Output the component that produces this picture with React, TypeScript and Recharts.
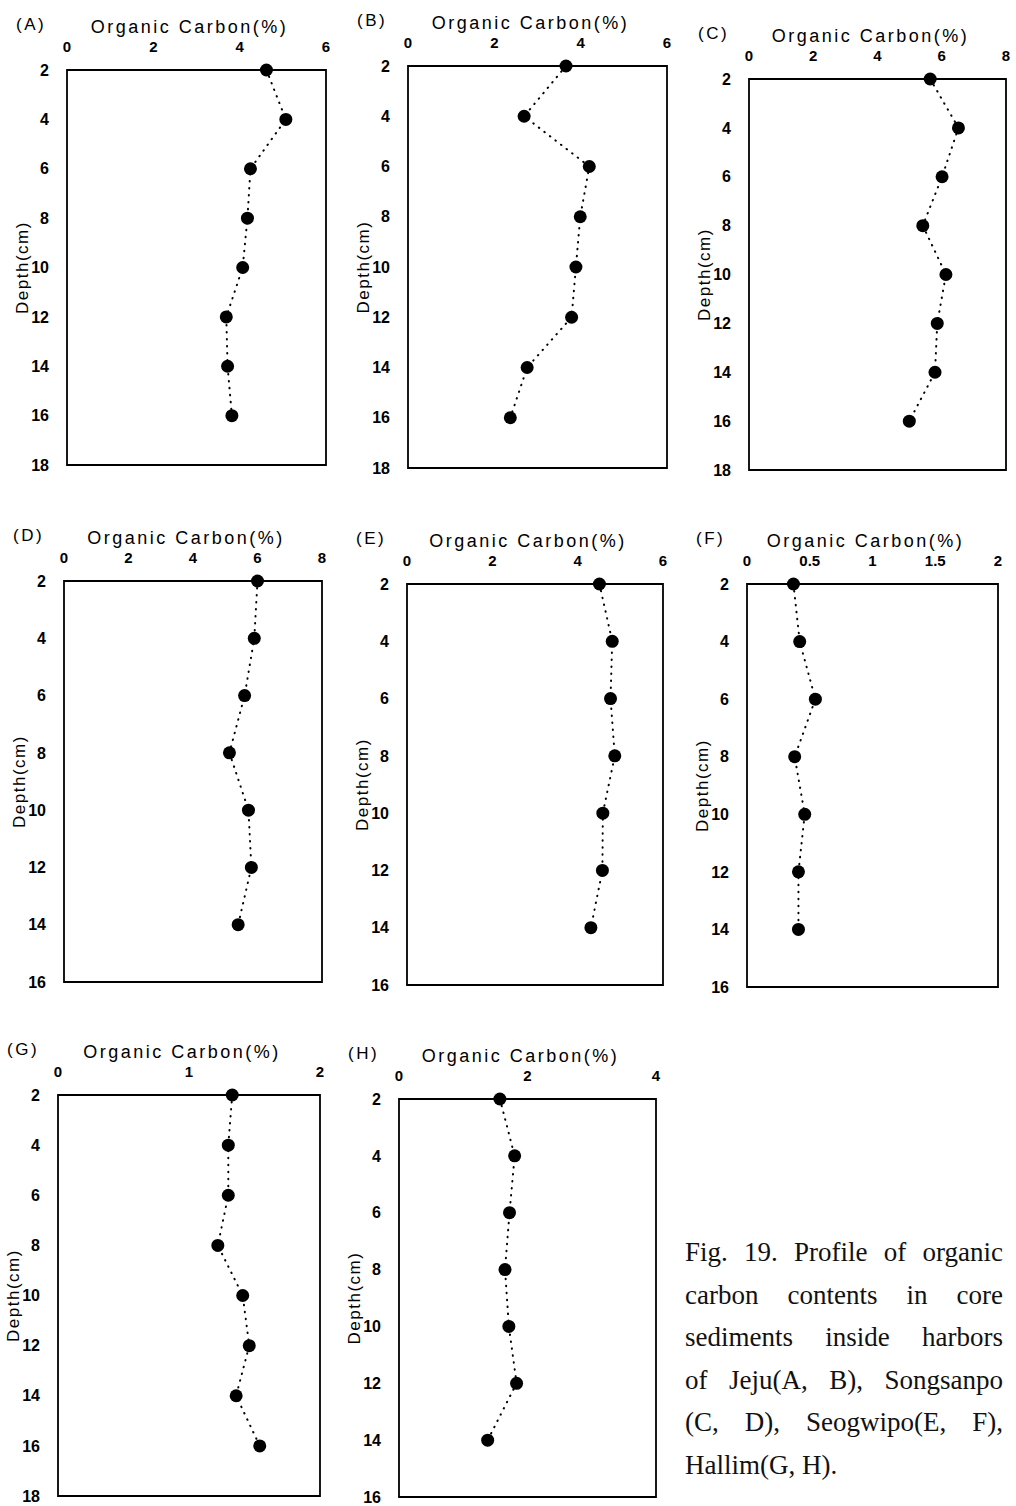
import { ScatterChart, Scatter, XAxis, YAxis, ReferenceArea } from "recharts";

const SANS = '"Liberation Sans", Arial, sans-serif';
const SERIF = '"Liberation Serif", "Times New Roman", serif';

// sampling depths (cm)
const depthsLong = [2, 4, 6, 8, 10, 12, 14, 16];
const depthsShort = [2, 4, 6, 8, 10, 12, 14];

// organic carbon (%) for each core
const carbonA = [4.62, 5.07, 4.25, 4.18, 4.07, 3.69, 3.72, 3.82];
const carbonB = [3.66, 2.69, 4.2, 3.99, 3.89, 3.79, 2.76, 2.37];
const carbonC = [5.64, 6.52, 6.01, 5.41, 6.13, 5.86, 5.79, 4.99];
const carbonD = [6.0, 5.9, 5.6, 5.13, 5.72, 5.81, 5.4];
const carbonE = [4.51, 4.81, 4.77, 4.87, 4.59, 4.58, 4.31];
const carbonF = [0.37, 0.42, 0.545, 0.38, 0.46, 0.41, 0.41];
const carbonG = [1.33, 1.3, 1.3, 1.22, 1.41, 1.46, 1.36, 1.54];
const carbonH = [1.57, 1.8, 1.72, 1.65, 1.71, 1.83, 1.38];

// axis ticks
const ticks6 = [0, 2, 4, 6];
const ticks8 = [0, 2, 4, 6, 8];
const ticksHalf = [0, 0.5, 1, 1.5, 2];
const ticks2 = [0, 1, 2];
const ticks4 = [0, 2, 4];
const depthTicks18 = [2, 4, 6, 8, 10, 12, 14, 16, 18];
const depthTicks16 = [2, 4, 6, 8, 10, 12, 14, 16];

const captionLines = [
  "Fig. 19. Profile of organic",
  "carbon contents in core",
  "sediments inside harbors",
  "of Jeju(A, B), Songsanpo",
  "(C, D), Seogwipo(E, F),",
  "Hallim(G, H).",
];

type Panel = {
  id: string;
  depths: number[];
  carbon: number[];
  xTicks: number[];
  yTicks: number[];
  box: [number, number, number, number]; // left, top, right, bottom of plot frame
};

const panels: Panel[] = [
  { id: "A", depths: depthsLong, carbon: carbonA, xTicks: ticks6, yTicks: depthTicks18, box: [67, 70, 326, 465] },
  { id: "B", depths: depthsLong, carbon: carbonB, xTicks: ticks6, yTicks: depthTicks18, box: [408, 66, 667, 468] },
  { id: "C", depths: depthsLong, carbon: carbonC, xTicks: ticks8, yTicks: depthTicks18, box: [749, 79, 1006, 470] },
  { id: "D", depths: depthsShort, carbon: carbonD, xTicks: ticks8, yTicks: depthTicks16, box: [64, 581, 322, 982] },
  { id: "E", depths: depthsShort, carbon: carbonE, xTicks: ticks6, yTicks: depthTicks16, box: [407, 584, 663, 985] },
  { id: "F", depths: depthsShort, carbon: carbonF, xTicks: ticksHalf, yTicks: depthTicks16, box: [747, 584, 998, 987] },
  { id: "G", depths: depthsLong, carbon: carbonG, xTicks: ticks2, yTicks: depthTicks18, box: [58, 1095, 320, 1496] },
  { id: "H", depths: depthsShort, carbon: carbonH, xTicks: ticks4, yTicks: depthTicks16, box: [399, 1099, 656, 1497] },
];

const Dot = (props: any) => <circle cx={props.cx} cy={props.cy} r={6.5} fill="#000" />;

function Profile({ p }: { p: Panel }) {
  const [left, top, right, bottom] = p.box;
  const w = right - left;
  const h = bottom - top;
  const data = p.depths.map((d, i) => ({ depth: d, carbon: p.carbon[i] }));
  const xMax = p.xTicks[p.xTicks.length - 1];
  const yMin = p.yTicks[0];
  const yMax = p.yTicks[p.yTicks.length - 1];

  return (
    <div style={{ position: "absolute", left: left - 90, top: top - 60 }}>
      <span
        style={{
          position: "absolute",
          left: 39,
          top: 6,
          fontFamily: SANS,
          fontSize: 17,
          letterSpacing: 2.5,
          lineHeight: "18px",
          color: "#000",
        }}
      >
        ({p.id})
      </span>
      <ScatterChart width={w + 100} height={h + 70} margin={{ top: 5, right: 10, bottom: 10, left: 0 }}>
        <XAxis
          type="number"
          dataKey="carbon"
          orientation="top"
          domain={[0, xMax]}
          ticks={p.xTicks}
          interval={0}
          height={55}
          axisLine={false}
          tickLine={false}
          tickMargin={12}
          tick={{ fontSize: 15, fontWeight: 700, fill: "#000", fontFamily: SANS }}
          label={{
            value: "Organic Carbon(%)",
            position: "insideTop",
            offset: 5,
            dx: -7,
            fill: "#000",
            fontSize: 18,
            fontFamily: SANS,
            letterSpacing: 2.5,
            style: { letterSpacing: 2.5 },
          }}
        />
        <YAxis
          type="number"
          dataKey="depth"
          reversed
          domain={[yMin, yMax]}
          ticks={p.yTicks}
          interval={0}
          width={90}
          axisLine={false}
          tickLine={false}
          tickMargin={12}
          tick={{ fontSize: 16, fontWeight: 700, fill: "#000", fontFamily: SANS }}
          label={{
            value: "Depth(cm)",
            angle: -90,
            position: "center",
            fill: "#000",
            fontSize: 17,
            fontFamily: SANS,
            letterSpacing: 1.5,
            style: { letterSpacing: 1.5 },
          }}
        />
        <ReferenceArea
          x1={0}
          x2={xMax}
          y1={yMin}
          y2={yMax}
          fill="none"
          fillOpacity={0}
          stroke="#000"
          strokeWidth={1.8}
          ifOverflow="visible"
        />
        <Scatter
          data={data}
          shape={Dot}
          line={{ stroke: "#000", strokeWidth: 2, strokeDasharray: "0.5 6.5", strokeLinecap: "round" }}
          isAnimationActive={false}
        />
      </ScatterChart>
    </div>
  );
}

export default function App() {
  return (
    <div
      style={{
        position: "absolute",
        left: 0,
        top: 0,
        width: 1016,
        height: 1506,
        background: "#fff",
        overflow: "hidden",
      }}
    >
      {panels.map((p) => (
        <Profile key={p.id} p={p} />
      ))}
      <div style={{ position: "absolute", left: 685, top: 1231, width: 318 }}>
        {captionLines.map((line, i) => (
          <div
            key={i}
            style={{
              fontFamily: SERIF,
              fontSize: 27,
              lineHeight: "42.6px",
              color: "#111",
              whiteSpace: "nowrap",
              textAlign: i === captionLines.length - 1 ? "left" : "justify",
              textAlignLast: i === captionLines.length - 1 ? "left" : "justify",
            }}
          >
            {line}
          </div>
        ))}
      </div>
    </div>
  );
}
